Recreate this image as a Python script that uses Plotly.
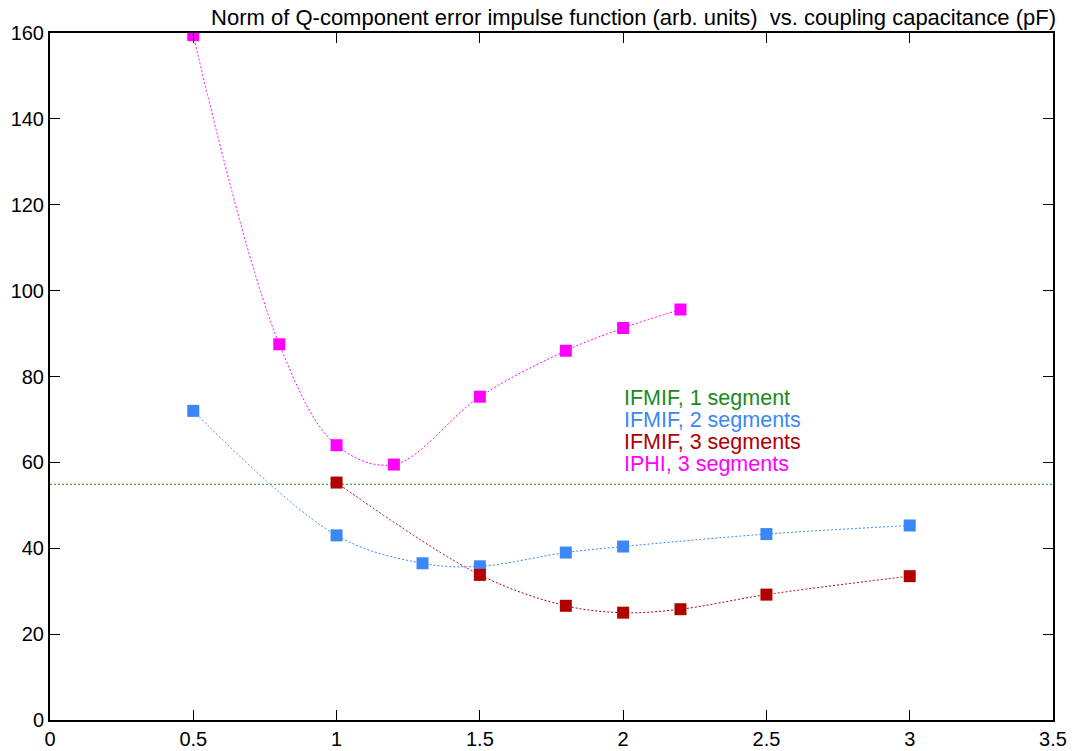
import plotly.graph_objects as go

# Data
x_iphi3 = [0.5, 0.8, 1.0, 1.2, 1.5, 1.8, 2.0, 2.2]
y_iphi3 = [159.5, 87.5, 64.0, 59.5, 75.3, 86.0, 91.3, 95.6]

x_ifmif2 = [0.5, 1.0, 1.3, 1.5, 1.8, 2.0, 2.5, 3.0]
y_ifmif2 = [72.0, 43.0, 36.5, 35.8, 39.0, 40.4, 43.3, 45.3]

x_ifmif3 = [1.0, 1.5, 1.8, 2.0, 2.2, 2.5, 3.0]
y_ifmif3 = [55.3, 33.8, 26.6, 25.0, 25.8, 29.2, 33.5]

x_ifmif1 = [0.0, 3.5]
y_ifmif1 = [54.9, 54.9]

labels = ["IFMIF, 1 segment", "IFMIF, 2 segments", "IFMIF, 3 segments", "IPHI, 3 segments"]
colors = ["#1a8a1a", "#3b87f5", "#b00000", "#ff00ff"]

x_ticks = [0, 0.5, 1, 1.5, 2, 2.5, 3, 3.5]
x_ticklabels = ["0", "0.5", "1", "1.5", "2", "2.5", "3", "3.5"]
y_ticks = [0, 20, 40, 60, 80, 100, 120, 140, 160]

DOT = "2px,2px"

fig = go.Figure()

fig.add_trace(go.Scatter(x=x_ifmif1, y=y_ifmif1, mode="lines",
                         line=dict(color=colors[0], width=1, dash=DOT),
                         name=labels[0]))
fig.add_trace(go.Scatter(x=x_ifmif2, y=y_ifmif2, mode="lines+markers",
                         line=dict(color=colors[1], width=1, dash=DOT, shape="spline"),
                         marker=dict(symbol="square", size=12, color=colors[1]),
                         name=labels[1]))
fig.add_trace(go.Scatter(x=x_ifmif3, y=y_ifmif3, mode="lines+markers",
                         line=dict(color=colors[2], width=1, dash=DOT, shape="spline"),
                         marker=dict(symbol="square", size=12, color=colors[2]),
                         name=labels[2]))
fig.add_trace(go.Scatter(x=x_iphi3, y=y_iphi3, mode="lines+markers",
                         line=dict(color=colors[3], width=1, dash=DOT, shape="spline"),
                         marker=dict(symbol="square", size=12, color=colors[3]),
                         name=labels[3]))

W, H = 1075, 751
ml, mr, mt, mb = 50, 22, 33, 31
pw, ph = W - ml - mr, H - mt - mb

# legend as text (positions in pixels converted to paper coords)
for i, (lab, col) in enumerate(zip(labels, colors)):
    px, py = 622, 398 + 22 * i
    fig.add_annotation(x=(px - ml) / pw, y=1 - (py - mt) / ph, xref="paper", yref="paper",
                       text=lab, showarrow=False, font=dict(color=col, size=21.5),
                       xanchor="left", yanchor="middle")

fig.update_layout(
    width=W, height=H,
    margin=dict(l=ml, r=mr, t=mt, b=mb, autoexpand=False),
    paper_bgcolor="white", plot_bgcolor="white",
    showlegend=False,
    font=dict(family="Liberation Sans, Arial, sans-serif", size=20, color="black"),
    title=dict(text="Norm of Q-component error impulse function (arb. units)  vs. coupling capacitance (pF)",
               x=1056 / W, xanchor="right", xref="container", y=1 - 17 / H, yanchor="middle",
               font=dict(size=22, color="black")),
)

fig.update_xaxes(range=[0, 3.5], tickvals=x_ticks, ticktext=x_ticklabels,
                 ticks="inside", ticklen=10, tickwidth=1, tickcolor="black",
                 showline=True, linecolor="black", linewidth=2, mirror="ticks",
                 showgrid=False, zeroline=False, tickfont=dict(size=20))
fig.update_yaxes(range=[0, 160], tickvals=y_ticks,
                 ticks="inside", ticklen=10, tickwidth=1, tickcolor="black",
                 showline=True, linecolor="black", linewidth=2, mirror="ticks",
                 showgrid=False, zeroline=False, tickfont=dict(size=20))

fig.write_html("out.html")
